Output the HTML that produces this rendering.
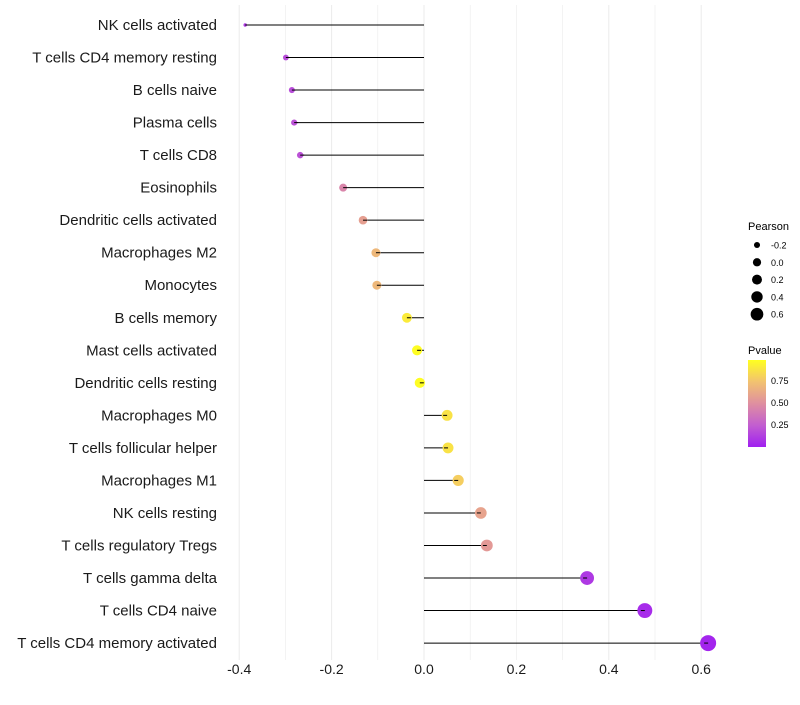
<!DOCTYPE html>
<html><head><meta charset="utf-8"><style>
body{margin:0;background:#fff;font-family:"Liberation Sans",sans-serif}
svg text{font-family:"Liberation Sans",sans-serif}
</style></head><body>
<svg id="chart" width="800" height="700" xmlns="http://www.w3.org/2000/svg">
<g id="grid"></g>
<g id="marks"></g>
<g id="ylabels"></g>
<g id="xlabels"></g>
<g id="sizeLeg">
<text x="748" y="230" font-size="11" fill="#000">Pearson</text>
</g>
<g>
<text x="748" y="354" font-size="11" fill="#000">Pvalue</text>
<defs><linearGradient id="pg" x1="0" y1="1" x2="0" y2="0">
<stop offset="0" stop-color="#a020f0"/><stop offset="0.25" stop-color="#c25ed0"/><stop offset="0.5" stop-color="#df8fa0"/><stop offset="0.75" stop-color="#f2c270"/><stop offset="1" stop-color="#ffff20"/></linearGradient></defs>
<rect x="748" y="360" width="18" height="87" fill="url(#pg)"/>
<text x="771" y="384" font-size="9">0.75</text>
<text x="771" y="406" font-size="9">0.50</text>
<text x="771" y="428" font-size="9">0.25</text>
</g>
</svg>
<script>
const categories=["NK cells activated","T cells CD4 memory resting","B cells naive","Plasma cells","T cells CD8","Eosinophils","Dendritic cells activated","Macrophages M2","Monocytes","B cells memory","Mast cells activated","Dendritic cells resting","Macrophages M0","T cells follicular helper","Macrophages M1","NK cells resting","T cells regulatory  Tregs ","T cells gamma delta","T cells CD4 naive","T cells CD4 memory activated"];
const pearson=[-0.387,-0.299,-0.286,-0.281,-0.268,-0.175,-0.132,-0.104,-0.102,-0.037,-0.015,-0.009,0.050,0.052,0.074,0.123,0.136,0.353,0.478,0.615];
const pvalue=[0.1,0.18,0.18,0.2,0.2,0.45,0.58,0.7,0.7,0.92,0.99,0.99,0.88,0.88,0.8,0.6,0.55,0.1,0.05,0.02];
const xTicks=[-0.4,-0.2,0.0,0.2,0.4,0.6];
const sizeLegend=[-0.2,0.0,0.2,0.4,0.6];
const NS="http://www.w3.org/2000/svg";
const x=v=>424+v*462;
const y=i=>25+i*32.53;
const pmin=Math.min(...pearson),pmax=Math.max(...pearson);
const rad=v=>Math.sqrt(3+(v-pmin)/(pmax-pmin)*(64-3));
const stops=[[0,[160,32,240]],[0.25,[194,94,208]],[0.5,[223,143,160]],[0.75,[242,194,112]],[1,[255,255,32]]];
function col(p){for(let k=0;k<stops.length-1;k++){const [a,ca]=stops[k],[b,cb]=stops[k+1];if(p<=b){const t=(p-a)/(b-a);return `rgb(${ca.map((c,j)=>Math.round(c+(cb[j]-c)*t)).join(',')})`;}}return 'rgb(255,255,32)';}
function mk(tag,attrs,parent){const e=document.createElementNS(NS,tag);for(const k in attrs)e.setAttribute(k,attrs[k]);parent.appendChild(e);return e;}
const grid=document.getElementById('grid');
for(let v=-0.4;v<=0.651;v+=0.1){const g=mk('line',{x1:x(v),x2:x(v),y1:5,y2:660,stroke:'#ebebeb','stroke-width':Math.abs((v*10)%2)<0.01?1:0.6},grid);

}
const marks=document.getElementById('marks'),yl=document.getElementById('ylabels'),xl=document.getElementById('xlabels');
categories.forEach((c,i)=>{
const s=mk('line',{x1:x(0),x2:x(pearson[i]),y1:y(i),y2:y(i),stroke:'#000','stroke-width':1},marks);


const d=mk('circle',{cx:x(pearson[i]),cy:y(i),r:rad(pearson[i]),fill:col(pvalue[i])},marks);


const s2=mk('line',{x1:x(pearson[i]),x2:x(pearson[i])+(pearson[i]<0?4:-4),y1:y(i),y2:y(i),stroke:'#000','stroke-width':1},marks);


const t=mk('text',{x:217,y:y(i)+5,'text-anchor':'end','font-size':15,fill:'#1a1a1a','xml:space':'preserve'},yl);t.textContent=c;


});
xTicks.forEach(v=>{const t=mk('text',{x:x(v),y:674,'text-anchor':'middle','font-size':14,fill:'#1a1a1a'},xl);t.textContent=v.toFixed(1);

});
const sl=document.getElementById('sizeLeg');
sizeLegend.forEach((v,k)=>{const cy=245+k*17.3;
const c=mk('circle',{cx:757,cy:cy,r:rad(v)*0.8,fill:'#000'},sl);


const t=mk('text',{x:771,y:cy+3.5,'font-size':9},sl);t.textContent=v.toFixed(1);

});
</script>
</body></html>
